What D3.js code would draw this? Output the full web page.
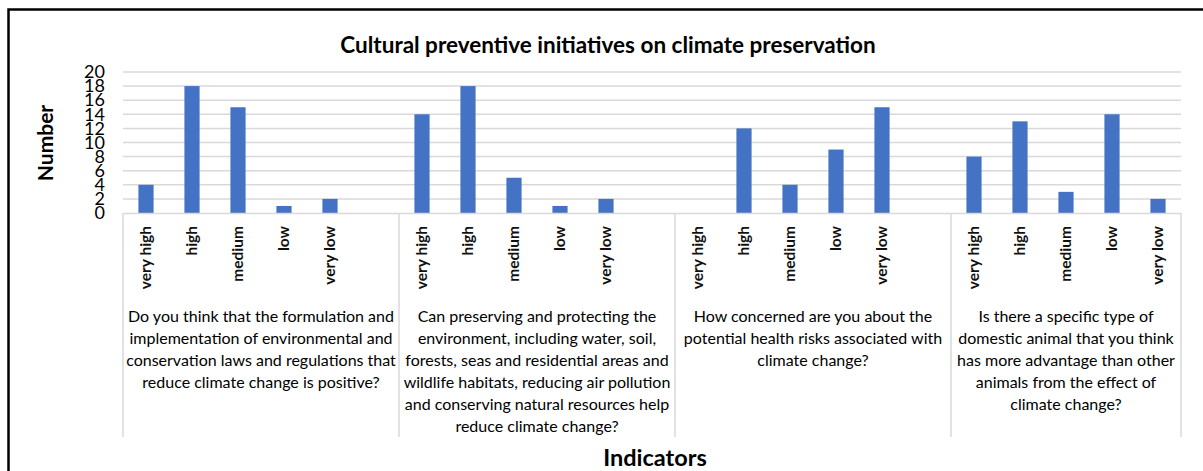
<!DOCTYPE html>
<html>
<head>
<meta charset="utf-8">
<script src="https://cdn.jsdelivr.net/npm/d3@7"></script>
<style>
  html, body { margin: 0; padding: 0; background: #fff; }
  svg { display: block; font-family: Lato, "Open Sans", sans-serif; }
</style>
</head>
<body>
<svg id="chart" width="1203" height="471"></svg>
<script>
(function(){
// answer levels per question
const levels = ['very high', 'high', 'medium', 'low', 'very low'];

// counts per question (same order as levels)
const q1Values = [4, 18, 15, 1, 2];
const q2Values = [14, 18, 5, 1, 2];
const q3Values = [0, 12, 4, 9, 15];
const q4Values = [8, 13, 3, 14, 2];

// question labels, broken into lines as in the original
const q1Label = ['Do you think that the formulation and', 'implementation of environmental and', 'conservation laws and regulations that', 'reduce climate change is positive?'];
const q2Label = ['Can preserving and protecting the', 'environment, including water, soil,', 'forests, seas and residential areas and', 'wildlife habitats, reducing air pollution', 'and conserving natural resources help', 'reduce climate change?'];
const q3Label = ['How concerned are you about the', 'potential health risks associated with', 'climate change?'];
const q4Label = ['Is there a specific type of', 'domestic animal that you think', 'has more advantage than other', 'animals from the effect of', 'climate change?'];

const yTicks = [0, 2, 4, 6, 8, 10, 12, 14, 16, 18, 20];

const groups = [
  {label: q1Label, values: q1Values},
  {label: q2Label, values: q2Values},
  {label: q3Label, values: q3Values},
  {label: q4Label, values: q4Values}
];

// build flat slots; every group but the last has a trailing empty slot (as in the Excel sheet)
const slots = [];
const bars = [];
groups.forEach((g, gi) => {
  const start = slots.length;
  levels.forEach((lv, li) => {
    const key = gi + '|' + lv;
    slots.push(key);
    bars.push({key, value: g.values[li]});
  });
  if (gi < groups.length - 1) slots.push(gi + '|');
  g.start = start;
  g.end = slots.length;
});

const svg = d3.select('#chart');
const plotLeft = 123, plotRight = 1181, plotTop = 72, plotBottom = 213;

const pad = 0.67;
const x = d3.scaleBand().domain(slots).range([plotLeft, plotRight]).paddingInner(pad).paddingOuter(pad / 2);
const y = d3.scaleLinear().domain([0, 20]).range([plotBottom, plotTop]);
const step = x.step();
const slotLeft = i => plotLeft + step * i;

// outer frame
svg.append('rect')
  .attr('x', 8.5).attr('y', 9.5).attr('width', 1220).attr('height', 480)
  .attr('fill', 'none').attr('stroke', '#000').attr('stroke-width', 2.5);

// title
svg.append('text')
  .attr('x', 608).attr('y', 53)
  .attr('text-anchor', 'middle')
  .attr('font-size', 22.5).attr('font-weight', 700).attr('fill', '#000')
  .text('Cultural preventive initiatives on climate preservation');

// gridlines
svg.append('g')
  .selectAll('line')
  .data(yTicks.filter(t => t > 0))
  .join('line')
    .attr('x1', plotLeft).attr('x2', plotRight)
    .attr('y1', d => y(d)).attr('y2', d => y(d))
    .attr('stroke', '#d9d9d9').attr('stroke-width', 1.5);

// y axis
const yAxis = svg.append('g')
  .attr('transform', `translate(${plotLeft},0)`)
  .call(d3.axisLeft(y).tickValues(yTicks).tickSize(0).tickPadding(18));
yAxis.select('.domain').remove();
yAxis.selectAll('text')
  .attr('font-family', 'Lato, sans-serif')
  .attr('font-size', 18).attr('fill', '#000');

// bars
svg.append('g')
  .selectAll('rect')
  .data(bars)
  .join('rect')
    .attr('x', d => x(d.key))
    .attr('width', x.bandwidth())
    .attr('y', d => y(d.value))
    .attr('height', d => y(0) - y(d.value))
    .attr('fill', '#4472c4');

// category axis (levels)
const xAxis = svg.append('g')
  .attr('transform', `translate(0,${plotBottom})`)
  .call(d3.axisBottom(x).tickSize(0).tickSizeOuter(0).tickFormat(d => d.split('|')[1]));
xAxis.select('.domain').attr('stroke', '#d9d9d9').attr('stroke-width', 1.5);
xAxis.selectAll('text')
  .attr('font-family', 'Lato, sans-serif')
  .attr('font-size', 15.5).attr('font-weight', 700).attr('fill', '#111')
  .attr('transform', 'rotate(-90)')
  .attr('y', 0).attr('x', -13).attr('dy', '0.35em')
  .style('text-anchor', 'end');

// group separators
const sepX = groups.map(g => slotLeft(g.start)).concat([slotLeft(slots.length)]);
svg.append('g')
  .selectAll('line')
  .data(sepX)
  .join('line')
    .attr('x1', d => d).attr('x2', d => d)
    .attr('y1', plotBottom).attr('y2', 437)
    .attr('stroke', '#d9d9d9').attr('stroke-width', 1.5);

// group labels
const gl = svg.append('g')
  .selectAll('text')
  .data(groups)
  .join('text')
    .attr('text-anchor', 'middle')
    .attr('font-size', 16).attr('fill', '#000')
    .attr('x', g => (slotLeft(g.start) + slotLeft(g.end)) / 2)
    .attr('y', 322);
gl.selectAll('tspan')
  .data(g => g.label.map(t => ({t, cx: (slotLeft(g.start) + slotLeft(g.end)) / 2})))
  .join('tspan')
    .attr('x', d => d.cx)
    .attr('dy', (d, i) => i === 0 ? 0 : 22)
    .text(d => d.t);

// axis titles
svg.append('text')
  .attr('transform', 'translate(53,143) rotate(-90)')
  .attr('text-anchor', 'middle')
  .attr('font-size', 21).attr('font-weight', 700).attr('fill', '#000')
  .text('Number');

svg.append('text')
  .attr('x', 655).attr('y', 466)
  .attr('text-anchor', 'middle')
  .attr('font-size', 23.5).attr('font-weight', 700).attr('fill', '#000')
  .text('Indicators');
})();
</script>
</body>
</html>
